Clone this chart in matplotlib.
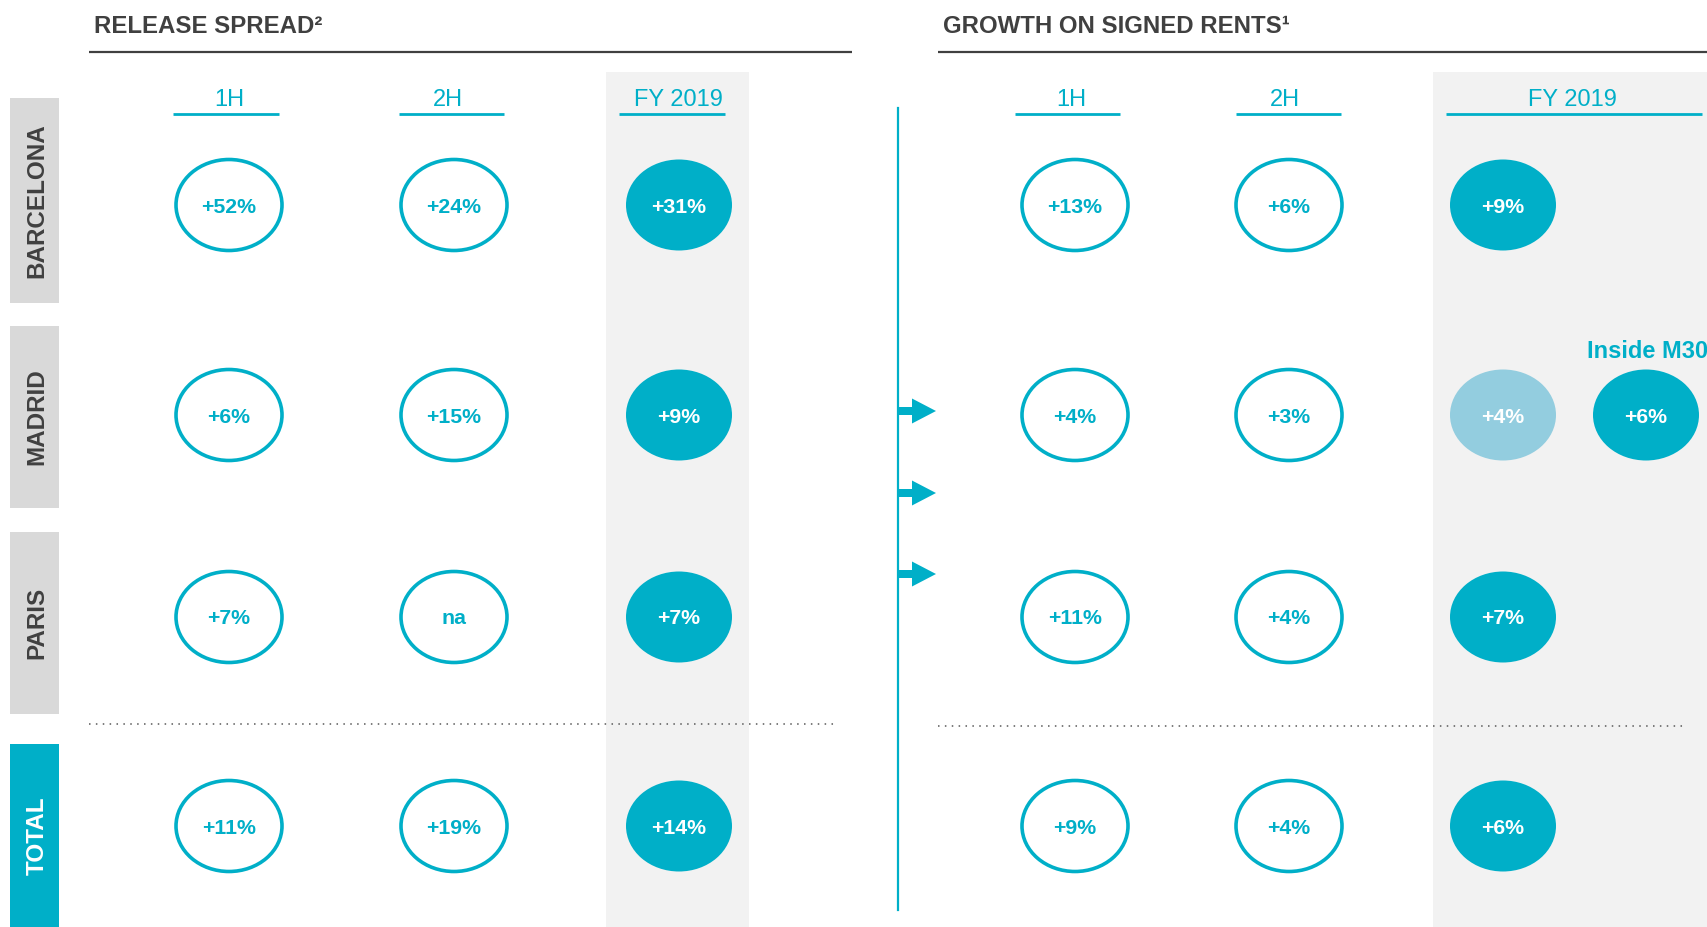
"""Release spread and growth on signed rents by city, 1H / 2H / FY 2019."""
import matplotlib

matplotlib.use("Agg")
import matplotlib.pyplot as plt
from matplotlib.patches import Ellipse, Rectangle

plt.rcParams["font.family"] = ["Liberation Sans", "DejaVu Sans"]

# --- data ------------------------------------------------------------------
regions = ["BARCELONA", "MADRID", "PARIS", "TOTAL"]
periods = ["1H", "2H", "FY 2019"]
left_title = "RELEASE SPREAD\u00b2"
right_title = "GROWTH ON SIGNED RENTS\u00b9"

release_1h = [52, 6, 7, 11]
release_2h = [24, 15, None, 19]
release_fy = [31, 9, 7, 14]

growth_1h = [13, 4, 11, 9]
growth_2h = [6, 3, 4, 4]
growth_fy = [9, 4, 7, 6]

madrid_inside_m30 = 6
inside_label = "Inside M30"

# --- layout / style ----------------------------------------------------------
TEAL = "#00AFC8"
LIGHT = "#93CDDF"
DARK = "#404040"
BAND = "#F2F2F2"
BOX = "#D9D9D9"

W, H = 1707, 927
ROW_Y = [205, 415, 617, 826]
ROW_BOX = [(98, 303), (326, 508), (532, 714), (744, 927)]
LEFT_X = [229, 454, 679]
RIGHT_X = [1075, 1289, 1503]
EXTRA_X = 1646

# header text x, underline start, underline end
LEFT_HEADS = [(229, 173, 279), (448, 399, 504), (678, 619, 725)]
RIGHT_HEADS = [(1071, 1015, 1120), (1285, 1236, 1341), (1572, 1446, 1702)]


def fmt(v):
    return "na" if v is None else f"+{v}%"


def bubble(ax, x, y, value, kind):
    if kind == "outline":
        ax.add_patch(Ellipse((x, y), 106, 91, facecolor="white", edgecolor=TEAL, lw=2.6, zorder=3))
        color = TEAL
    else:
        ax.add_patch(Ellipse((x, y), 106, 91, facecolor=LIGHT if kind == "light" else TEAL,
                             edgecolor="none", zorder=3))
        color = "white"
    ax.text(x, y + 7.5, fmt(value), ha="center", va="baseline", color=color,
            fontsize=15.3, fontweight="bold", zorder=4)


fig = plt.figure(figsize=(W / 100, H / 100), dpi=100)
ax = fig.add_axes([0, 0, 1, 1])
ax.set_xlim(0, W)
ax.set_ylim(H, 0)
ax.axis("off")

# shaded FY columns
ax.add_patch(Rectangle((606, 72), 143, H - 72, facecolor=BAND, edgecolor="none", zorder=0))
ax.add_patch(Rectangle((1433, 72), W - 1433, H - 72, facecolor=BAND, edgecolor="none", zorder=0))

# section titles
for x0, x1, title in [(89, 852, left_title), (938, W, right_title)]:
    ax.text(x0 + 5, 33, title, ha="left", va="baseline", color=DARK,
            fontsize=17.3, fontweight="bold")
    ax.plot([x0, x1], [51.5, 51.5], color=DARK, lw=1.6, solid_capstyle="butt")

# column headers
for (tx, u0, u1), label in zip(LEFT_HEADS + RIGHT_HEADS, periods + periods):
    ax.text(tx, 106, label, ha="center", va="baseline", color=TEAL, fontsize=17)
    ax.plot([u0, u1], [113.5, 113.5], color=TEAL, lw=2, solid_capstyle="butt")

# row labels
for name, (y0, y1) in zip(regions, ROW_BOX):
    total = name == "TOTAL"
    ax.add_patch(Rectangle((10, y0), 49, y1 - y0, facecolor=TEAL if total else BOX,
                           edgecolor="none", zorder=1))
    ax.text(34.5 + 9, (y0 + y1) / 2, name, rotation=90, rotation_mode="anchor",
            ha="center", va="baseline", color="white" if total else DARK,
            fontsize=17.5, fontweight="bold", zorder=2)

# separators before the total row
ax.plot([89, 837], [723.5, 723.5], color="#595959", lw=1.1, ls=(0, (1, 3.5)), zorder=2)
ax.plot([938, 1686], [725.5, 725.5], color="#595959", lw=1.1, ls=(0, (1, 3.5)), zorder=2)

# connector line and arrows between the panels
ax.plot([898, 898], [108, 910], color=TEAL, lw=1.6, zorder=2)
for ay in [411, 493, 574]:
    ax.arrow(898, ay, 38, 0, width=8, head_width=25, head_length=24,
             length_includes_head=True, color=TEAL, lw=0, zorder=2)

# bubbles
left_cols = [release_1h, release_2h, release_fy]
right_cols = [growth_1h, growth_2h, growth_fy]
for r, y in enumerate(ROW_Y):
    for c in range(3):
        kind = "filled" if c == 2 else "outline"
        bubble(ax, LEFT_X[c], y, left_cols[c][r], kind)
        if c == 2 and regions[r] == "MADRID":
            kind = "light"
        bubble(ax, RIGHT_X[c], y, right_cols[c][r], kind)

madrid = regions.index("MADRID")
bubble(ax, EXTRA_X, ROW_Y[madrid], madrid_inside_m30, "filled")
ax.text(1587, 358, inside_label, ha="left", va="baseline", color=TEAL,
        fontsize=17, fontweight="bold")

fig.savefig("out.png", dpi=100)
